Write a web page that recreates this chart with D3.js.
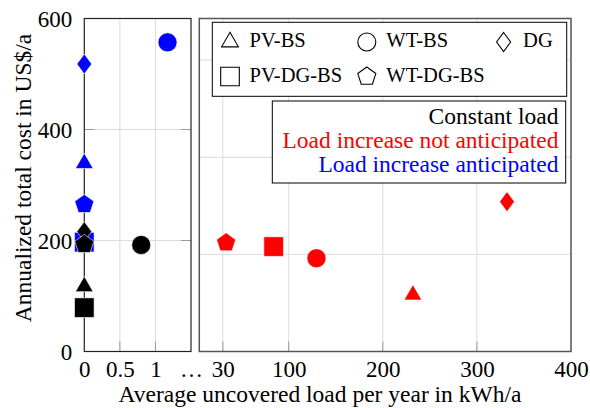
<!DOCTYPE html>
<html><head><meta charset="utf-8">
<script src="https://cdn.jsdelivr.net/npm/d3@7"></script>
<style>body{margin:0;background:#fff}svg text{font-family:"Liberation Serif","Times New Roman",serif}</style>
</head><body><svg id="c" width="590" height="408"></svg>
<script>
// ---- data ----
const categories = ["PV-BS", "WT-BS", "DG", "PV-DG-BS", "WT-DG-BS"];
const shapes = ["triangle", "circle", "diamond", "square", "pentagon"];
const scenarios = ["Constant load", "Load increase not anticipated", "Load increase anticipated"];
const scenarioColors = ["#000000", "#ff0000", "#0000ff"];
const anticipatedX = [0, 1.17, 0, 0, 0];
const anticipatedY = [339, 557, 518, 197, 265];
const constantX = [0, 0.8, 0, 0, 0];
const constantY = [117, 192, 216, 79, 193];
const notAnticipatedX = [232, 129.5, 332, 84, 33.5];
const notAnticipatedY = [102, 168, 270, 189, 196];
const yTicks = [0, 200, 400, 600];
const leftXTicks = [0, 0.5, 1, 1.5];
const leftXTickLabels = ["0", "0.5", "1", "\u2026"];
const rightXTicks = [30, 100, 200, 300, 400];
const rightYGrid = [175, 350, 525];

// ---- layout ----
const svg = d3.select("#c");
const T = 18.5, B = 351.5;
const L0 = 84.3, L1 = 191, R0 = 199.3, R1 = 571;
const y = d3.scaleLinear().domain([0, 600]).range([B, T]);
const xL = d3.scaleLinear().domain([0, 1.5]).range([L0, L1]);
const xR = d3.scaleLinear().domain([5, 400]).range([R0, R1]);
const gridCol = "#dcdcdc", tickCol = "#999";

function shapePath(s, k) {
  k = k || 1;
  if (s === "circle") { const r = 9.5 * k; return `M${r},0A${r},${r} 0 1,1 ${-r},0A${r},${r} 0 1,1 ${r},0Z`; }
  if (s === "square") { const h = 9.8 * k; return `M${-h},${-h}H${h}V${h}H${-h}Z`; }
  if (s === "diamond") { const w = 7.4 * k, h = 10 * k; return `M0,${-h}L${w},0L0,${h}L${-w},0Z`; }
  if (s === "triangle") { const r = 10.2 * k; return `M0,${-r}L${r * 0.866},${r / 2}L${-r * 0.866},${r / 2}Z`; }
  if (s === "pentagon") {
    const r = 10 * k; const pts = d3.range(5).map(i => { const a = -Math.PI / 2 + i * 2 * Math.PI / 5; return [r * Math.cos(a), r * Math.sin(a)]; });
    return "M" + pts.map(p => p.join(",")).join("L") + "Z";
  }
}

// ---- grids ----
const g = svg.append("g");
g.selectAll(".gl").data([0.5, 1]).join("line").attr("x1", d => xL(d)).attr("x2", d => xL(d)).attr("y1", T).attr("y2", B).attr("stroke", gridCol);
g.selectAll(".gly").data([200, 400]).join("line").attr("x1", L0).attr("x2", L1).attr("y1", d => y(d)).attr("y2", d => y(d)).attr("stroke", gridCol);
g.selectAll(".gr").data(rightXTicks.slice(0, 4)).join("line").attr("x1", d => xR(d)).attr("x2", d => xR(d)).attr("y1", T).attr("y2", B).attr("stroke", gridCol);
g.selectAll(".gry").data(rightYGrid).join("line").attr("x1", R0).attr("x2", R1).attr("y1", d => y(d)).attr("y2", d => y(d)).attr("stroke", gridCol);

// ---- inner ticks ----
const tk = svg.append("g").attr("stroke", tickCol);
[0.5, 1].forEach(v => tk.append("line").attr("x1", xL(v)).attr("x2", xL(v)).attr("y1", B).attr("y2", B - 10));
[200, 400].forEach(v => {
  tk.append("line").attr("x1", L0).attr("x2", L0 + 10).attr("y1", y(v)).attr("y2", y(v));
  tk.append("line").attr("x1", L1 - 10).attr("x2", L1).attr("y1", y(v)).attr("y2", y(v));
});
rightXTicks.slice(0, 4).forEach(v => tk.append("line").attr("x1", xR(v)).attr("x2", xR(v)).attr("y1", B).attr("y2", B - 10));

// ---- borders ----
svg.append("rect").attr("x", L0).attr("y", T).attr("width", L1 - L0).attr("height", B - T).attr("fill", "none").attr("stroke", "#222").attr("stroke-width", 1.2);
svg.append("rect").attr("x", R0).attr("y", T).attr("width", R1 - R0).attr("height", B - T).attr("fill", "none").attr("stroke", "#555").attr("stroke-width", 1.5);

// ---- axes (labels) ----
const fs = 23;
const ya = svg.append("g").attr("transform", `translate(${L0},0)`).call(d3.axisLeft(y).tickValues(yTicks).tickSize(0).tickPadding(12));
const xa1 = svg.append("g").attr("transform", `translate(0,${B})`).call(d3.axisBottom(xL).tickValues(leftXTicks).tickFormat((d, i) => leftXTickLabels[i]).tickSize(0).tickPadding(9));
const xa2 = svg.append("g").attr("transform", `translate(0,${B})`).call(d3.axisBottom(xR).tickValues(rightXTicks).tickSize(0).tickPadding(9));
[ya, xa1, xa2].forEach(a => { a.select(".domain").remove(); a.selectAll("text").attr("font-size", fs).attr("fill", "#000").style("font-family", '"Liberation Serif",serif'); });
ya.selectAll("text").attr("dy", "0.36em");

svg.append("text").attr("x", 320).attr("y", 401.5).attr("text-anchor", "middle").attr("font-size", 23.5).text("Average uncovered load per year in kWh/a");
svg.append("text").attr("transform", "translate(31,178) rotate(-90)").attr("text-anchor", "middle").attr("font-size", 23.5).text("Annualized total cost in US$/a");

// ---- markers ----
const series = [
  { xs: anticipatedX, ys: anticipatedY, c: scenarioColors[2] },
  { xs: constantX, ys: constantY, c: scenarioColors[0] },
  { xs: notAnticipatedX, ys: notAnticipatedY, c: scenarioColors[1] }
];
series.forEach(s => {
  const pts = categories.map((cat, i) => ({ cat, shape: shapes[i], x: s.xs[i], y: s.ys[i] }));
  svg.append("g").selectAll("path").data(pts).join("path")
    .attr("d", d => shapePath(d.shape))
    .attr("transform", d => `translate(${d.x <= 1.5 ? xL(d.x) : xR(d.x)},${y(d.y)})`)
    .attr("fill", s.c).attr("stroke", "#fff").attr("stroke-width", 0.6);
});

// ---- legend 1 ----
svg.append("rect").attr("x", 212.3).attr("y", 22.3).attr("width", 354.4).attr("height", 74).attr("fill", "#fff").attr("stroke", "#000").attr("stroke-width", 1);
const lg = svg.append("g").selectAll("g").data(categories).join("g")
  .attr("transform", (d, i) => `translate(${230 + (i % 3) * 136.8},${Math.floor(i / 3) ? 76.5 : 42})`);
lg.append("path").attr("d", (d, i) => shapePath(shapes[i], 0.95)).attr("fill", "none").attr("stroke", "#000").attr("stroke-width", 1.1);
lg.append("text").attr("x", 19.5).attr("y", 5).attr("font-size", 20.5).text(d => d);

// ---- legend 2 ----
svg.append("rect").attr("x", 272.3).attr("y", 101).attr("width", 293.4).attr("height", 82).attr("fill", "#fff").attr("stroke", "#000").attr("stroke-width", 1);
svg.append("g").selectAll("text").data(scenarios).join("text")
  .attr("x", 558.5).attr("y", (d, i) => 124 + i * 23.8).attr("text-anchor", "end").attr("font-size", 23.5)
  .attr("fill", (d, i) => scenarioColors[i]).text(d => d);
</script></body></html>
